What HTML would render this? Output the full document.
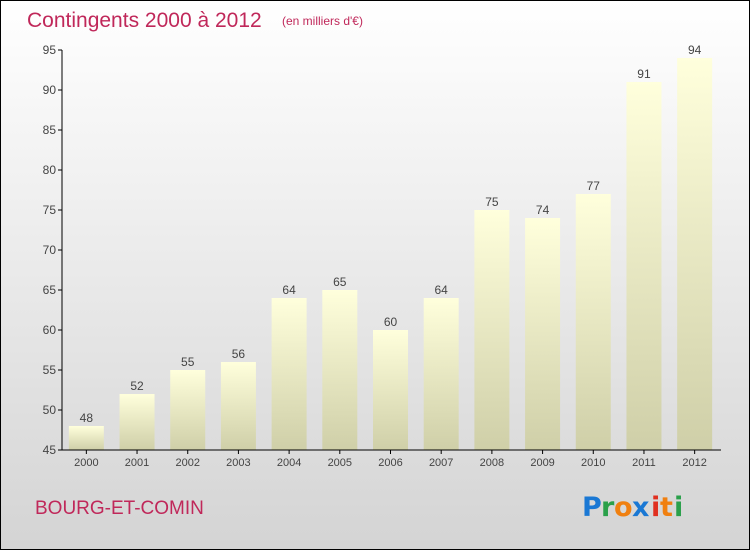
<!DOCTYPE html>
<html><head><meta charset="utf-8"><style>
body{margin:0}
#c{position:relative;width:750px;height:550px;box-sizing:border-box;border:1px solid #000;background:linear-gradient(#fff,#d4d4d4);font-family:"Liberation Sans",sans-serif;overflow:hidden}
</style></head><body>
<div id="c">
<svg id="s" width="750" height="550" style="position:absolute;left:-1px;top:-1px">
<defs><linearGradient id="g" x1="0" y1="0" x2="0" y2="1"><stop offset="0" stop-color="#ffffdc"/><stop offset="1" stop-color="#cfcfa8"/></linearGradient></defs>
<text x="27" y="27" font-size="21" fill="#c0285a">Contingents 2000 à 2012</text>
<text x="282" y="25" font-size="12" fill="#c0285a">(en milliers d'€)</text>
<text x="35" y="514" font-size="19" fill="#c0285a">BOURG-ET-COMIN</text>
<g font-size="27" font-weight="bold" font-family="'DejaVu Sans',sans-serif">
<text x="582" y="516" fill="#1a78d4">P</text><text x="601" y="516" fill="#2aa04a">r</text><text x="614" y="516" fill="#f08010">o</text><text x="632" y="516" fill="#1a78d4">x</text><text x="651" y="516" fill="#e03020">i</text><text x="660" y="516" fill="#f08010">t</text><text x="674" y="516" fill="#2aa04a">i</text></g>
<g id="plot"></g>
</svg>
</div>
<script>
const categories=["2000","2001","2002","2003","2004","2005","2006","2007","2008","2009","2010","2011","2012"];
const values=[48,52,55,56,64,65,60,64,75,74,77,91,94];
const ticks=[45,50,55,60,65,70,75,80,85,90,95];
const ns="http://www.w3.org/2000/svg";
const x0=62,x1=721,yTop=50,yBot=450,vMin=45,vMax=95;
const y=v=>yBot-(v-vMin)/(vMax-vMin)*(yBot-yTop);
const step=(x1-x0)/categories.length;
const xc=i=>x0+step*(i+0.5)-1;
const g=document.getElementById('plot');
function el(t,a){const e=document.createElementNS(ns,t);for(const k in a)e.setAttribute(k,a[k]);g.appendChild(e);return e;}
values.forEach((v,i)=>{
 const r=el('rect',{x:xc(i)-17.5,y:y(v),width:35,height:yBot-y(v),fill:'url(#g)'});
 
 
 const t=el('text',{x:xc(i),y:y(v)-4,'text-anchor':'middle','font-size':12,fill:'#444'});
 t.textContent=v;
 
 
 const l=el('text',{x:xc(i),y:yBot+16,'text-anchor':'middle','font-size':11,fill:'#444'});
 l.textContent=categories[i];
 
 
 const tk=el('line',{x1:xc(i),x2:xc(i),y1:yBot,y2:yBot+4,stroke:'#000'});
 
 
});
ticks.forEach(v=>{
 const tk=el('line',{x1:x0-4,x2:x0,y1:y(v),y2:y(v),stroke:'#000'});
 
 
 const l=el('text',{x:x0-6,y:y(v)+4,'text-anchor':'end','font-size':12,fill:'#444'});
 l.textContent=v;
 
 
});
const ya=el('line',{x1:x0,x2:x0,y1:yTop,y2:yBot,stroke:'#000'});


const xa=el('line',{x1:x0,x2:x1,y1:yBot,y2:yBot,stroke:'#000'});


</script>
</body></html>
